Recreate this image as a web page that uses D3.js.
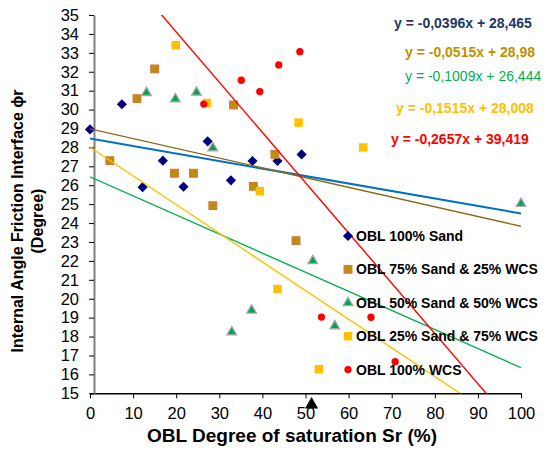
<!DOCTYPE html>
<html>
<head>
<meta charset="utf-8">
<script src="https://cdn.jsdelivr.net/npm/d3@7"></script>
<style>
    body { margin: 0; background: #fff; }
    svg { font-family: "Liberation Sans", Arial, sans-serif; }
</style>
</head>
<body>
<svg id="chart"></svg>
<script>
// points, [Sr %, friction angle]
const sand100 = [[0, 28.95], [7.4, 30.28], [12.2, 25.9], [16.9, 27.3], [21.7, 25.92],
    [27.3, 28.32], [32.7, 26.26], [37.7, 27.28], [43.5, 27.28], [49.1, 27.63]];
const sand75 = [[4.6, 27.3], [10.9, 30.58], [15.0, 32.15], [19.6, 26.63], [24.0, 26.63],
    [28.5, 24.92], [33.3, 30.24], [37.9, 25.94], [42.9, 27.63], [47.8, 23.07]];
const sand50 = [[13.1, 30.89], [19.8, 30.56], [24.7, 30.91], [28.5, 27.97], [32.9, 18.24],
    [37.5, 19.39], [51.7, 22.0], [56.8, 18.56], [100, 25.03]];
const sand25 = [[19.9, 33.4], [27.1, 30.35], [39.4, 25.68], [43.5, 20.51], [48.4, 29.31],
    [53.1, 16.27], [63.4, 28.0]];
const wcs100 = [[26.4, 30.29], [35.1, 31.55], [39.4, 30.95], [43.8, 32.36], [48.7, 33.06],
    [53.7, 19.03], [65.2, 19.02], [70.8, 16.67]];
const marker = [[51.4, 14.4]];

const names = ["OBL 100% Sand", "OBL 75% Sand & 25% WCS", "OBL 50% Sand & 50% WCS",
    "OBL 25% Sand & 75% WCS", "OBL 100% WCS"];
const slopes = [-0.0396, -0.0515, -0.1009, -0.1515, -0.2657];
const intercepts = [28.465, 28.98, 26.444, 28.008, 39.419];
const equations = ["y = -0,0396x + 28,465", "y = -0,0515x + 28,98", "y = -0,1009x + 26,444",
    "y = -0,1515x + 28,008", "y = -0,2657x + 39,419"];
const xTicks = d3.range(0, 101, 10);
const yTicks = d3.range(15, 36, 1);

const margin = { top: 15, left: 90 };
const width = 431, height = 378.3;

const series = [
    { data: sand100, shape: d3.symbolDiamond2, size: 66, fill: "#000080", stroke: "none", line: "#0070c0", lw: 2, eq: "#203864", bold: true },
    { data: sand75, shape: d3.symbolSquare, size: 58, fill: "#b8900a", stroke: "#d9773a", line: "#8b6914", lw: 1.4, eq: "#bf9000", bold: true },
    { data: sand50, shape: d3.symbolTriangle, size: 40, fill: "#00a550", stroke: "#a6a6a6", line: "#00b050", lw: 1.4, eq: "#00b050", bold: false },
    { data: sand25, shape: d3.symbolSquare, size: 72, fill: "#ffc000", stroke: "none", line: "#ffc000", lw: 1.4, eq: "#ffc000", bold: true },
    { data: wcs100, shape: d3.symbolCircle, size: 42, fill: "#ff0000", stroke: "none", line: "#ff0000", lw: 1.4, eq: "#ff0000", bold: true }
];

const svg = d3.select("#chart").attr("width", 547).attr("height", 452);

const x = d3.scaleLinear().domain([0, 100]).range([0, width]);
const y = d3.scaleLinear().domain([15, 35]).range([height, 0]);

svg.append("defs").append("clipPath").attr("id", "plot")
    .append("rect").attr("width", width).attr("height", height);

const g = svg.append("g").attr("transform", `translate(${margin.left}, ${margin.top})`);

// x axis
const xAxis = g.append("g")
    .attr("transform", `translate(0, ${height})`)
    .call(d3.axisBottom(x).tickValues(xTicks).tickSize(5).tickSizeOuter(0).tickPadding(9));
xAxis.selectAll("text").attr("font-size", 16.5).attr("fill", "#000");
xAxis.select(".domain").attr("stroke", "#000").attr("stroke-width", 1.5);

// y axis sits a few px right of x = 0, like the original
const yAxis = g.append("g")
    .attr("transform", "translate(4, 0)")
    .call(d3.axisLeft(y).tickValues(yTicks).tickSize(5).tickSizeOuter(0).tickPadding(10));
yAxis.selectAll("text").attr("font-size", 16.5).attr("fill", "#000");
yAxis.select(".domain").attr("stroke", "#808080").attr("stroke-width", 2);

// markers
series.forEach(s => {
    g.append("g").selectAll("path")
        .data(s.data)
        .join("path")
        .attr("transform", d => `translate(${x(d[0])}, ${y(d[1])})`)
        .attr("d", d3.symbol().type(s.shape).size(s.size))
        .attr("fill", s.fill)
        .attr("stroke", s.stroke)
        .attr("stroke-width", 1.3);
});

// black triangle under the axis
g.append("g").selectAll("path")
    .data(marker)
    .join("path")
    .attr("transform", d => `translate(${x(d[0])}, ${y(d[1])})`)
    .attr("d", d3.symbol().type(d3.symbolTriangle).size(75))
    .attr("fill", "#000");

// trend lines
const lines = g.append("g").attr("clip-path", "url(#plot)");
series.forEach((s, i) => {
    const pts = [0, 100].map(v => [v, slopes[i] * v + intercepts[i]]);
    lines.append("path")
        .attr("d", d3.line().x(d => x(d[0])).y(d => y(d[1]))(pts))
        .attr("fill", "none")
        .attr("stroke", s.line)
        .attr("stroke-width", s.lw);
});

// legend
const legend = svg.append("g").attr("transform", "translate(348, 236)");
series.forEach((s, i) => {
    const row = legend.append("g").attr("transform", `translate(0, ${i * 33.4})`);
    row.append("path")
        .attr("d", d3.symbol().type(s.shape).size(s.size))
        .attr("fill", s.fill)
        .attr("stroke", s.stroke)
        .attr("stroke-width", 1.3);
    row.append("text")
        .attr("x", 8)
        .attr("dy", "0.36em")
        .attr("font-size", 14)
        .attr("font-weight", "bold")
        .text(names[i]);
});

// equations
const eqX = [394, 405, 405, 396, 391];
const eqY = [28, 57, 81, 113, 144];
series.forEach((s, i) => {
    svg.append("text")
        .attr("x", eqX[i])
        .attr("y", eqY[i])
        .attr("font-size", 14)
        .attr("font-weight", s.bold ? "bold" : "normal")
        .attr("fill", s.eq)
        .text(equations[i]);
});

// axis titles
svg.append("text")
    .attr("x", 292)
    .attr("y", 442)
    .attr("text-anchor", "middle")
    .attr("font-size", 19)
    .attr("font-weight", "bold")
    .text("OBL Degree of saturation Sr (%)");

const yTitle = svg.append("text")
    .attr("transform", "translate(0, 221) rotate(-90)")
    .attr("text-anchor", "middle")
    .attr("font-size", 16)
    .attr("font-weight", "bold");
yTitle.append("tspan").attr("x", 0).attr("y", 23).text("Internal Angle Friction Interface ϕr");
yTitle.append("tspan").attr("x", 0).attr("y", 43).text("(Degree)");
</script>
</body>
</html>
